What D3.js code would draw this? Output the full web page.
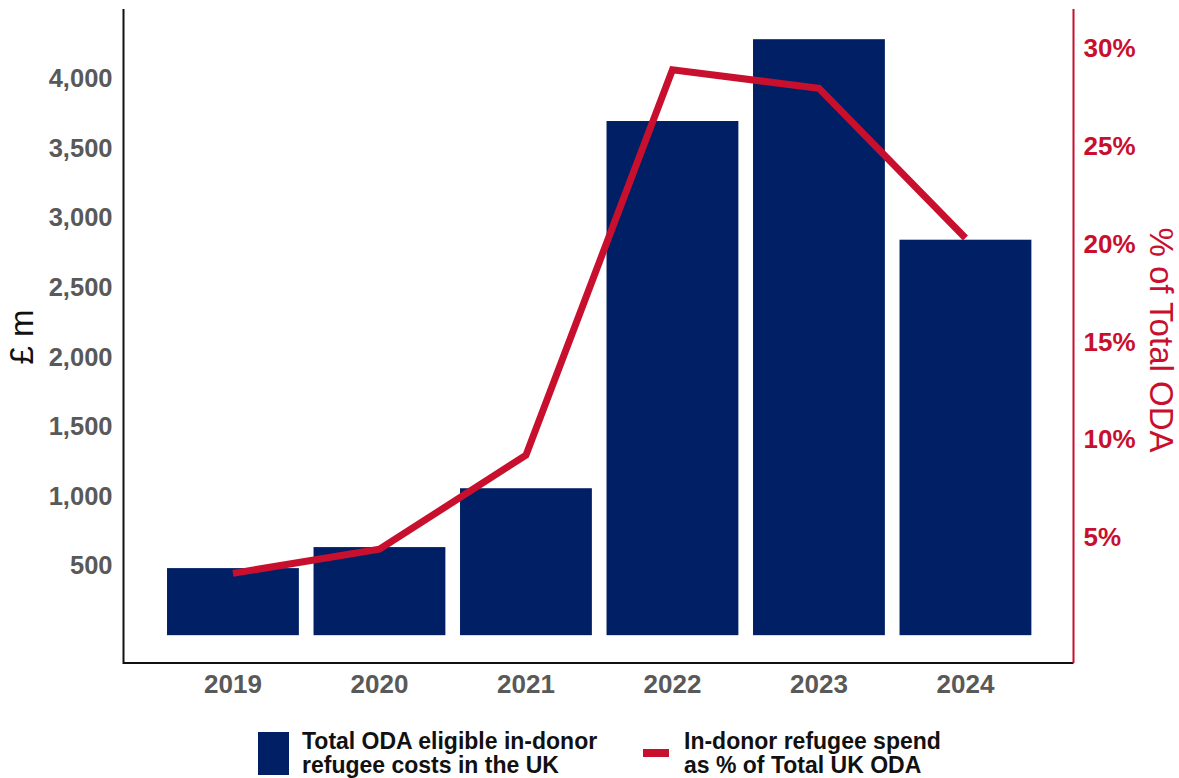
<!DOCTYPE html>
<html>
<head>
<meta charset="utf-8">
<script src="https://cdn.jsdelivr.net/npm/d3@7"></script>
<style>
  html, body { margin: 0; padding: 0; background: #fff; }
  svg { display: block; font-family: "Liberation Sans", Arial, sans-serif; }
</style>
</head>
<body>
<svg id="chart" width="1179" height="778"></svg>
<script>
// Chart data
const years = ["2019", "2020", "2021", "2022", "2023", "2024"];
const refugeeCosts = [482, 633, 1056, 3695, 4283, 2842];   // £ m
const shareOfOda = [3.16, 4.39, 9.2, 28.9, 27.95, 20.3];   // % of total UK ODA
const leftTicks = [500, 1000, 1500, 2000, 2500, 3000, 3500, 4000];
const rightTicks = [5, 10, 15, 20, 25, 30];
const legendLabels = [
    ["Total ODA eligible in-donor", "refugee costs in the UK"],
    ["In-donor refugee spend", "as % of Total UK ODA"]
];

const NAVY = "#001f65";
const RED = "#c8102e";
const GREY = "#595959";

const svg = d3.select("#chart");

// Plot area edges
const plotLeft = 123.5, plotRight = 1073.5, plotTop = 9, plotBottom = 663;

const x = d3.scaleBand().domain(years).range([159.7, 1038.7])
    .paddingInner(0.1).paddingOuter(0.05);
const yLeft = d3.scaleLinear().domain([-200, 4500]).range([plotBottom, plotTop]);
const yRight = d3.scaleLinear().domain([-200 / 140.6, 4500 / 140.6]).range([plotBottom, plotTop]);

// Bars
svg.append("g").selectAll("rect")
    .data(refugeeCosts)
    .join("rect")
    .attr("x", (d, i) => x(years[i]))
    .attr("width", x.bandwidth())
    .attr("y", d => yLeft(d))
    .attr("height", d => yLeft(0) - yLeft(d))
    .attr("fill", NAVY);

// Line on right axis
const line = d3.line()
    .x((d, i) => x(years[i]) + x.bandwidth() / 2)
    .y(d => yRight(d));
svg.append("path")
    .datum(shareOfOda)
    .attr("d", line)
    .attr("fill", "none")
    .attr("stroke", RED)
    .attr("stroke-width", 7)
    .attr("stroke-linejoin", "miter")
    .attr("stroke-linecap", "butt");

// Left axis
const leftAxis = svg.append("g")
    .attr("transform", `translate(${plotLeft},0)`)
    .call(d3.axisLeft(yLeft).tickValues(leftTicks).tickSize(0).tickPadding(11)
        .tickFormat(d3.format(",")));
leftAxis.select(".domain").remove();
leftAxis.selectAll("text")
    .attr("fill", GREY).attr("font-size", 25.5).attr("font-weight", "bold")
    .attr("font-family", "Liberation Sans, Arial, sans-serif");

// Right axis
const rightAxis = svg.append("g")
    .attr("transform", `translate(${plotRight},0)`)
    .call(d3.axisRight(yRight).tickValues(rightTicks).tickSize(0).tickPadding(10)
        .tickFormat(d => d + "%"));
rightAxis.select(".domain").remove();
rightAxis.selectAll("text")
    .attr("fill", RED).attr("font-size", 26).attr("font-weight", "bold")
    .attr("font-family", "Liberation Sans, Arial, sans-serif");

// Bottom axis
const bottomAxis = svg.append("g")
    .attr("transform", `translate(0,${plotBottom})`)
    .call(d3.axisBottom(x).tickSize(0).tickPadding(12));
bottomAxis.select(".domain").remove();
bottomAxis.selectAll("text")
    .attr("fill", GREY).attr("font-size", 26).attr("font-weight", "bold")
    .attr("font-family", "Liberation Sans, Arial, sans-serif");

// Axis lines
svg.append("line").attr("x1", plotLeft).attr("x2", plotLeft).attr("y1", plotTop).attr("y2", plotBottom + 1)
    .attr("stroke", "#111").attr("stroke-width", 2);
svg.append("line").attr("x1", plotLeft).attr("x2", plotRight).attr("y1", plotBottom).attr("y2", plotBottom)
    .attr("stroke", "#111").attr("stroke-width", 2);
svg.append("line").attr("x1", plotRight).attr("x2", plotRight).attr("y1", plotTop).attr("y2", plotBottom)
    .attr("stroke", RED).attr("stroke-width", 2);

// Axis titles
svg.append("text")
    .attr("transform", "translate(33,337) rotate(-90)")
    .attr("text-anchor", "middle")
    .attr("font-size", 33)
    .attr("fill", "#111")
    .text("£ m");
svg.append("text")
    .attr("transform", "translate(1150,340) rotate(90)")
    .attr("text-anchor", "middle")
    .attr("font-size", 33)
    .attr("fill", RED)
    .text("% of Total ODA");

// Legend
const legend = svg.append("g").attr("font-size", 23).attr("font-weight", "bold").attr("fill", "#111");
legend.append("rect").attr("x", 258).attr("y", 732).attr("width", 31).attr("height", 43).attr("fill", NAVY);
legend.append("line").attr("x1", 643).attr("x2", 669).attr("y1", 753).attr("y2", 753)
    .attr("stroke", RED).attr("stroke-width", 8);
const legendX = [302, 684];
legendLabels.forEach((lines, i) => {
    const t = legend.append("text").attr("x", legendX[i]).attr("y", 749);
    lines.forEach((s, j) => {
        t.append("tspan").attr("x", legendX[i]).attr("dy", j === 0 ? 0 : 24).text(s);
    });
});
</script>
</body>
</html>
